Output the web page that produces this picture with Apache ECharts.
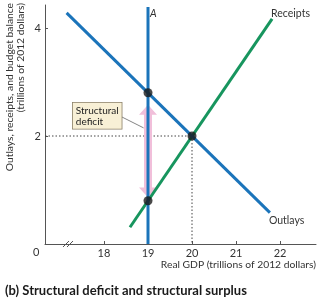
<!DOCTYPE html>
<html>
<head>
<meta charset="utf-8">
<script src="https://cdn.jsdelivr.net/npm/echarts@6/dist/echarts.min.js"></script>
<style>
  html, body { margin: 0; padding: 0; background: #fff; }
  #chart { width: 320px; height: 300px; }
</style>
</head>
<body>
<div id="chart"></div>
<script>
// data
const xTicks = [18, 19, 20, 21, 22];
const yTicks = [2, 4];
const outlays = [[17.15, 4.28], [21.77, 0.58]];
const receipts = [[18.59, 0.31], [21.82, 4.17]];
const lineA = [[19, 0], [19, 4.39]];
const guide = [[16.659, 2], [20, 2], [20, 0]];
const dots = [[19, 2.8], [19, 0.8], [20, 2]];
const deficitArrow = [[19, 2.58, 0.86]];

const blue = '#1b74ba';
const green = '#17955e';
const pink = '#f1bfda';
const font = 'Lato';

const chart = echarts.init(document.getElementById('chart'));

chart.setOption({
  animation: false,
  textStyle: { fontFamily: font },
  grid: { left: 45, right: 4, top: 5, bottom: 56 },
  xAxis: {
    type: 'value', min: 16.659, max: 22.818,
    name: 'Real GDP (trillions of 2012 dollars)',
    nameLocation: 'end', nameGap: 0,
    nameTextStyle: { color: '#333', fontSize: 10.3, align: 'right', verticalAlign: 'top', padding: [16, 0, 0, 0] },
    axisLine: { lineStyle: { color: '#555', width: 1 } },
    axisTick: { show: true, inside: true, length: 3, customValues: xTicks, lineStyle: { color: '#555' } },
    axisLabel: { customValues: xTicks, color: '#333', fontSize: 11, margin: 4 },
    splitLine: { show: false }
  },
  yAxis: {
    type: 'value', min: 0, max: 4.426,
    axisLine: { show: true, lineStyle: { color: '#555', width: 1 } },
    axisTick: { show: true, inside: true, length: 3, customValues: yTicks, lineStyle: { color: '#555' } },
    axisLabel: { customValues: yTicks, color: '#333', fontSize: 11, margin: 4 },
    splitLine: { show: false }
  },
  series: [
    {
      type: 'line', data: guide, symbol: 'none', z: 1,
      lineStyle: { color: '#444', width: 1, type: [1.5, 2] }
    },
    {
      type: 'custom', z: 2, data: deficitArrow,
      renderItem: function (params, api) {
        const top = api.coord([api.value(0), api.value(1)]);
        const bot = api.coord([api.value(0), api.value(2)]);
        const x = top[0], sw = 4, hw = 9, hl = 10;
        return {
          type: 'polygon',
          shape: { points: [
            [x, top[1]], [x + hw, top[1] + hl], [x + sw, top[1] + hl],
            [x + sw, bot[1] - hl], [x + hw, bot[1] - hl], [x, bot[1]],
            [x - hw, bot[1] - hl], [x - sw, bot[1] - hl], [x - sw, top[1] + hl],
            [x - hw, top[1] + hl]
          ] },
          style: { fill: pink }
        };
      }
    },
    {
      type: 'line', data: receipts, symbol: 'none', z: 3,
      lineStyle: { color: green, width: 3 },
      endLabel: { show: true, formatter: 'Receipts', color: '#333', fontSize: 10.5, offset: [-9, -5] }
    },
    {
      type: 'line', data: outlays, symbol: 'none', z: 4,
      lineStyle: { color: blue, width: 3 },
      endLabel: { show: true, formatter: 'Outlays', color: '#333', fontSize: 10.5, offset: [-9, 8] }
    },
    {
      type: 'line', data: lineA, symbol: 'none', z: 5,
      lineStyle: { color: blue, width: 3 },
      endLabel: { show: true, formatter: 'A', color: '#333', fontSize: 10.5, fontStyle: 'italic', offset: [-6, 7] }
    },
    {
      type: 'scatter', data: dots, z: 6,
      symbol: 'circle', symbolSize: 9,
      itemStyle: { color: '#1a1a1a' }
    }
  ]
});

// annotation box, y title, origin label, axis break, caption
const tip = chart.convertToPixel({ gridIndex: 0 }, [18.9, 2.15]);
chart.setOption({
  graphic: [
    { type: 'line', shape: { x1: 118, y1: 115, x2: tip[0], y2: tip[1] }, style: { stroke: '#666', lineWidth: 0.8 }, z: 10 },
    {
      type: 'text', left: 72, top: 102, z: 11,
      style: {
        text: 'Structural\ndeficit', fill: '#222', font: '10px ' + font, lineHeight: 11,
        backgroundColor: '#f8f0d6', borderColor: '#8a7f68', borderWidth: 0.8, padding: [2, 3, 2, 3]
      }
    },
    {
      type: 'text', x: 15.5, y: 3, rotation: Math.PI / 2,
      style: {
        text: 'Outlays, receipts, and budget balance\n(trillions of 2012 dollars)',
        fill: '#333', font: '10.3px ' + font, lineHeight: 11, align: 'right', verticalAlign: 'middle'
      }
    },
    { type: 'text', left: 33, top: 247, style: { text: '0', fill: '#333', font: '11px ' + font } },
    { type: 'line', shape: { x1: 63, y1: 247, x2: 69, y2: 241 }, style: { stroke: '#555', lineWidth: 1 } },
    { type: 'line', shape: { x1: 67, y1: 247, x2: 73, y2: 241 }, style: { stroke: '#555', lineWidth: 1 } },
    {
      type: 'text', left: 5, top: 284,
      style: { text: '(b) Structural deficit and structural surplus', fill: '#1a1a1a', font: 'bold 13px ' + font }
    }
  ]
});
</script>
</body>
</html>
